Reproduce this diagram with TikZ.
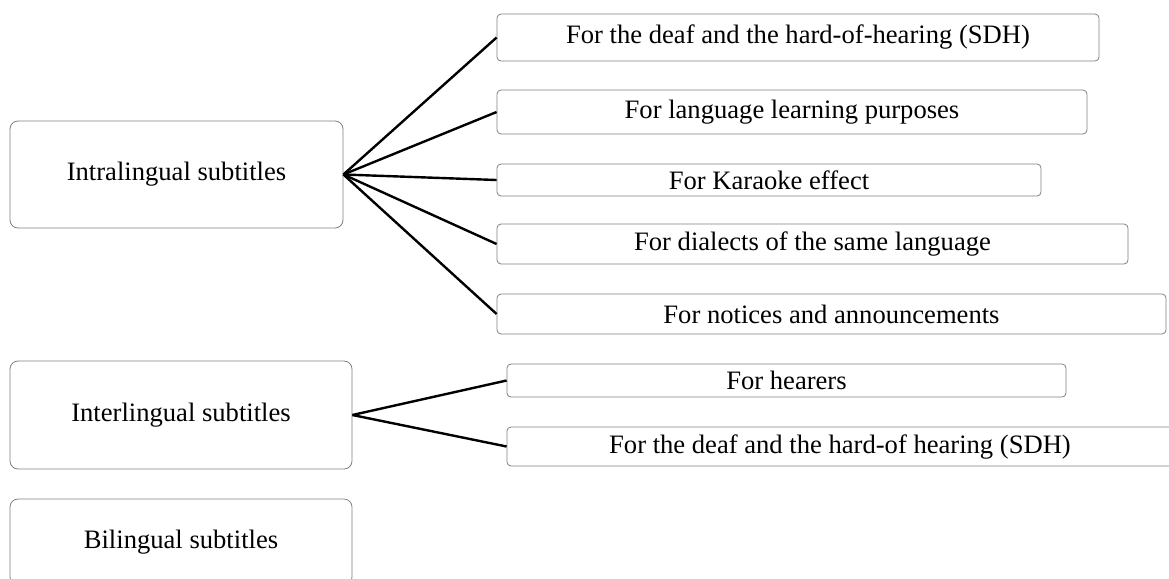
\documentclass[tikz,border=0pt]{standalone}
\usepackage{fontspec}
\setmainfont{Liberation Serif}
\usetikzlibrary{positioning}

\begin{document}
\begin{tikzpicture}[x=0.5pt, y=-0.5pt,
  kind/.style={draw=gray, rounded corners=4pt, inner sep=0pt, font=\fontsize{13.3}{15}\selectfont},
  use/.style={draw=gray, rounded corners=2pt, inner sep=0pt, font=\fontsize{13.3}{15}\selectfont},
  link/.style={line width=1.2pt}]
 \useasboundingbox (0,0) rectangle (1169,579);
 \node[kind, minimum width=166.5pt, minimum height=53.5pt] (Intra) at (176.5, 174.5) {Intralingual subtitles};
 \node[kind, minimum width=171pt, minimum height=54pt] (Inter) at (181, 415) {Interlingual subtitles};
 \node[kind, minimum width=171pt, minimum height=43pt] (Bi) at (181, 542) {Bilingual subtitles};
 \node[use, minimum width=301pt, minimum height=23.5pt] (SDH1) at (798, 37.5) {For the deaf and the hard-of-hearing (SDH)};
 \node[use, minimum width=295pt, minimum height=22pt] (Learn) at (792, 112) {For language learning purposes};
 \node[use, minimum width=272pt, minimum height=16pt] (Karaoke) at (769, 180) {For Karaoke effect};
 \node[use, minimum width=315.5pt, minimum height=20pt] (Dialect) at (812.5, 244) {For dialects of the same language};
 \node[use, minimum width=334.5pt, minimum height=20pt] (Notice) at (831.5, 314) {For notices and announcements};
 \node[use, minimum width=279.5pt, minimum height=16.5pt] (Hear) at (786.5, 380.5) {For hearers};
 \node[use, minimum width=333pt, minimum height=19.5pt] (SDH2) at (840, 446.5) {For the deaf and the hard-of hearing (SDH)};
 \draw[link] (Intra.east) -- (SDH1.west);
 \draw[link] (Intra.east) -- (Learn.west);
 \draw[link] (Intra.east) -- (Karaoke.west);
 \draw[link] (Intra.east) -- (Dialect.west);
 \draw[link] (Intra.east) -- (Notice.west);
 \draw[link] (Inter.east) -- (Hear.west);
 \draw[link] (Inter.east) -- (SDH2.west);
\end{tikzpicture}
\end{document}
